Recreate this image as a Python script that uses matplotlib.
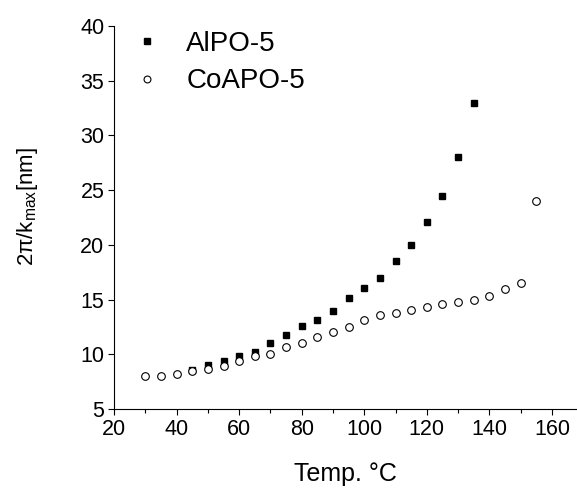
import matplotlib
matplotlib.use("Agg")
import matplotlib.pyplot as plt
from matplotlib.ticker import MultipleLocator

plt.rcParams["font.family"] = ["Liberation Sans", "DejaVu Sans"]
plt.rcParams["mathtext.fontset"] = "custom"
plt.rcParams["mathtext.rm"] = "Liberation Sans"

# AlPO-5 (filled squares)
alpo_temp = [45, 50, 55, 60, 65, 70, 75, 80, 85, 90, 95, 100, 105, 110,
             115, 120, 125, 130, 135]
alpo_d = [8.6, 9.05, 9.35, 9.8, 10.2, 11.0, 11.75, 12.55, 13.1, 14.0, 15.1,
          16.05, 17.0, 18.5, 20.0, 22.05, 24.5, 28.0, 33.0]

# CoAPO-5 (open circles)
coapo_temp = [30, 35, 40, 45, 50, 55, 60, 65, 70, 75, 80, 85, 90, 95, 100,
              105, 110, 115, 120, 125, 130, 135, 140, 145, 150, 155]
coapo_d = [8.05, 8.05, 8.2, 8.45, 8.65, 8.9, 9.35, 9.8, 10.0, 10.7, 11.0,
           11.55, 12.0, 12.5, 13.1, 13.55, 13.75, 14.05, 14.3, 14.55, 14.8,
           15.0, 15.35, 16.0, 16.55, 24.0]

fig = plt.figure(figsize=(5.77, 4.88), dpi=100)
ax = fig.add_axes([0.1976, 0.1619, 0.8024, 0.7848])

ax.plot(alpo_temp, alpo_d, "s", color="black", ms=4.5, label="AlPO-5",
        linestyle="none")
ax.plot(coapo_temp, coapo_d, "o", mfc="white", mec="black", mew=0.8, ms=5.5,
        label="CoAPO-5", linestyle="none")

ax.set_xlim(20, 168)
ax.set_ylim(5, 40)
ax.xaxis.set_major_locator(MultipleLocator(20))
ax.xaxis.set_minor_locator(MultipleLocator(10))
ax.yaxis.set_major_locator(MultipleLocator(5))

for s in ["top", "right"]:
    ax.spines[s].set_visible(False)
ax.tick_params(which="both", direction="out", labelsize=15.5, width=0.8)
ax.tick_params(which="major", length=4.5, pad=2.5)
ax.tick_params(which="minor", length=3)

ax.set_xlabel("Temp. °C", fontsize=18)
ax.xaxis.set_label_coords(0.5, -0.138)
ax.set_ylabel(r"2π/k$_{\mathregular{max}}$[nm]", fontsize=16)
ax.yaxis.set_label_coords(-0.16, 0.53)

ax.legend(loc="upper left", frameon=False, fontsize=20, handletextpad=0.8,
          borderaxespad=0.2, labelspacing=0.4, handlelength=1.2,
          markerscale=0.9, bbox_to_anchor=(0.0, 1.03))

fig.savefig("out.png", dpi=100)
